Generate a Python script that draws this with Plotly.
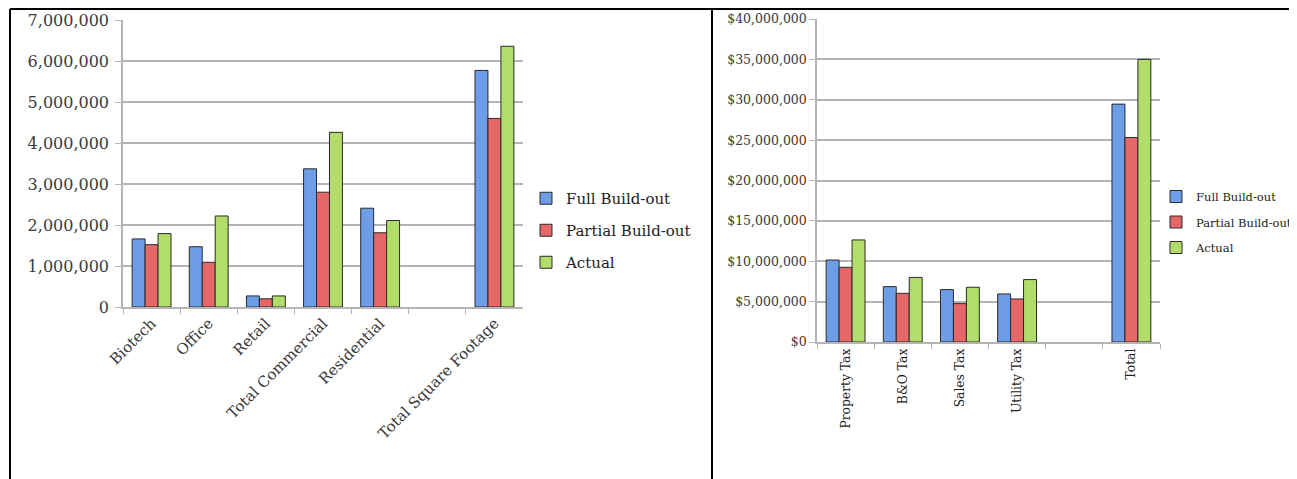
import plotly.graph_objects as go

# ---- data: left chart (square footage) ----
sf_categories = ["Biotech", "Office", "Retail", "Total Commercial", "Residential", " ", "Total Square Footage"]
sf_full = [1660000, 1470000, 270000, 3370000, 2410000, None, 5770000]
sf_partial = [1520000, 1090000, 200000, 2800000, 1810000, None, 4600000]
sf_actual = [1790000, 2220000, 270000, 4260000, 2110000, None, 6360000]
sf_tickvals = [0, 1000000, 2000000, 3000000, 4000000, 5000000, 6000000, 7000000]
sf_ticktext = ["0", "1,000,000", "2,000,000", "3,000,000", "4,000,000",
               "5,000,000", "6,000,000", "7,000,000"]

# ---- data: right chart (tax revenue) ----
tax_categories = ["Property Tax", "B&O Tax", "Sales Tax", "Utility Tax", " ", "Total"]
tax_full = [10150000, 6860000, 6490000, 5950000, None, 29460000]
tax_partial = [9250000, 6030000, 4750000, 5330000, None, 25330000]
tax_actual = [12640000, 8000000, 6780000, 7730000, None, 35000000]
tax_tickvals = [0, 5000000, 10000000, 15000000, 20000000, 25000000, 30000000, 35000000, 40000000]
tax_ticktext = ["$0", "$5,000,000", "$10,000,000", "$15,000,000", "$20,000,000",
                "$25,000,000", "$30,000,000", "$35,000,000", "$40,000,000"]

series_names = ["Full Build-out", "Partial Build-out", "Actual"]
colors = ["#6c9de6", "#e56767", "#b2dd6a"]

# page body has an 8px margin: the figure fills the rest of the 1297x479 window
OFF = 8
W, H = 1297 - OFF, 479 - OFF
FONT = "DejaVu Serif"
TXT = "#3a3a3a"

fig = go.Figure()

for name, vals, col in zip(series_names, [sf_full, sf_partial, sf_actual], colors):
    fig.add_trace(go.Bar(
        x=sf_categories, y=vals, name=name, xaxis="x", yaxis="y",
        marker=dict(color=col, line=dict(color="#2a2a2a", width=1)),
        legend="legend", legendgroup="L" + name,
    ))

for name, vals, col in zip(series_names, [tax_full, tax_partial, tax_actual], colors):
    fig.add_trace(go.Bar(
        x=tax_categories, y=vals, name=name, xaxis="x2", yaxis="y2",
        marker=dict(color=col, line=dict(color="#2a2a2a", width=1)),
        legend="legend2", legendgroup="R" + name,
    ))


def px_x(p):
    """screen pixel x -> paper fraction"""
    return (p - OFF) / W


def px_y(p):
    """screen pixel y -> paper fraction"""
    return 1 - (p - OFF) / H


grid = "#b4b4b4"

fig.update_layout(
    width=W, height=H,
    margin=dict(l=0, r=0, t=0, b=0, pad=0, autoexpand=False),
    paper_bgcolor="white", plot_bgcolor="white",
    barmode="group", bargap=0.32, bargroupgap=0,
    font=dict(family=FONT, color=TXT),
    showlegend=True,
    xaxis=dict(
        domain=[px_x(123), px_x(523)], anchor="y", automargin=False,
        categoryorder="array", categoryarray=sf_categories,
        tickson="boundaries", ticks="outside", ticklen=5, tickcolor=grid,
        showline=True, linecolor=grid, linewidth=1.5,
        tickangle=-45, tickfont=dict(size=15, family=FONT, color=TXT),
        showgrid=False,
    ),
    yaxis=dict(
        domain=[px_y(307), px_y(20)], anchor="x", automargin=False,
        range=[0, 7000000], tickvals=sf_tickvals, ticktext=sf_ticktext,
        ticks="outside", ticklen=6, tickcolor=grid, ticklabelstandoff=3,
        showline=True, linecolor=grid, linewidth=1.5,
        gridcolor=grid, gridwidth=1.5,
        tickfont=dict(size=16, family=FONT, color=TXT),
        zeroline=False,
    ),
    xaxis2=dict(
        domain=[px_x(817), px_x(1160)], anchor="y2", automargin=False,
        categoryorder="array", categoryarray=tax_categories,
        tickson="boundaries", ticks="outside", ticklen=5, tickcolor=grid,
        showline=True, linecolor=grid, linewidth=1.5,
        tickangle=-90, tickfont=dict(size=12.3, family=FONT, color="#222222"),
        showgrid=False,
    ),
    yaxis2=dict(
        domain=[px_y(342), px_y(19)], anchor="x2", automargin=False,
        range=[0, 40000000], tickvals=tax_tickvals, ticktext=tax_ticktext,
        ticks="outside", ticklen=6, tickcolor=grid,
        showline=True, linecolor=grid, linewidth=1.5,
        gridcolor=grid, gridwidth=1.5,
        tickfont=dict(size=12.5, family=FONT, color=TXT),
        zeroline=False,
    ),
    legend=dict(
        x=px_x(526), y=px_y(182), xanchor="left", yanchor="top",
        font=dict(size=15, family=FONT, color="#222222"),
        tracegroupgap=9.5, itemwidth=30, bgcolor="rgba(0,0,0,0)",
    ),
    legend2=dict(
        x=px_x(1156), y=px_y(182), xanchor="left", yanchor="top",
        font=dict(size=11.5, family=FONT, color="#222222"),
        tracegroupgap=6.5, itemwidth=30, bgcolor="rgba(0,0,0,0)",
    ),
)

# table border lines
line_style = dict(color="black", width=2)
fig.add_shape(type="line", xref="paper", yref="paper",
              x0=px_x(10), x1=1, y0=px_y(9), y1=px_y(9), line=line_style)
fig.add_shape(type="line", xref="paper", yref="paper",
              x0=px_x(10), x1=px_x(10), y0=px_y(9), y1=0, line=line_style)
fig.add_shape(type="line", xref="paper", yref="paper",
              x0=px_x(712), x1=px_x(712), y0=px_y(9), y1=0, line=line_style)

fig.write_html("out.html")
